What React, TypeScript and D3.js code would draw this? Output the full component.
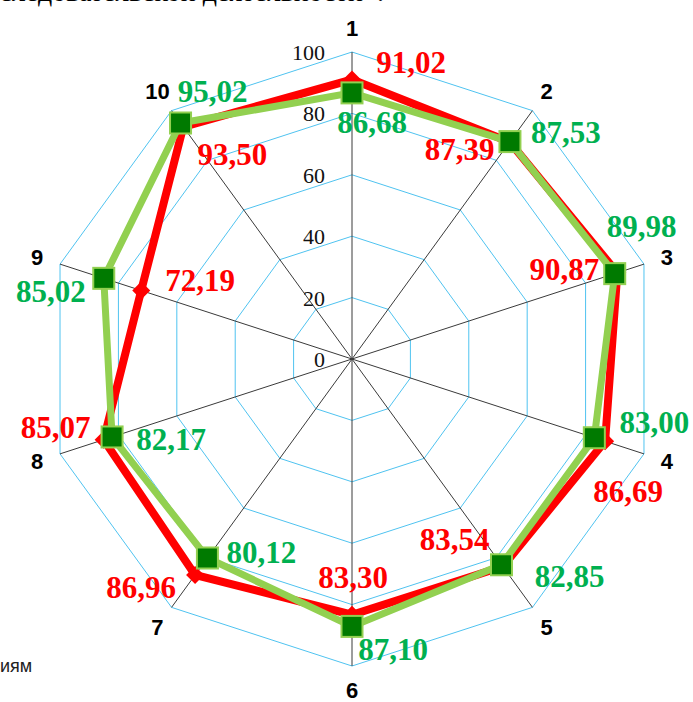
import React from "react";
import * as d3 from "d3";

const categories = ["1", "2", "3", "4", "5", "6", "7", "8", "9", "10"];
const redValues = [91.02, 87.39, 90.87, 86.69, 83.54, 83.3, 86.96, 85.07, 72.19, 93.5];
const greenValues = [86.68, 87.53, 89.98, 83.0, 82.85, 87.1, 80.12, 82.17, 85.02, 95.02];
const ringTicks = [0, 20, 40, 60, 80, 100];

// label placement (dx to text centre, dy to baseline) relative to each point
const redLabelOffsets: [number, number][] = [
  [59, -7], [-50, 18], [-53, 7], [23, 61], [-48, -16],
  [1, -27], [-54, 23], [-48, -2], [59, 0], [49, 38],
];
const greenLabelOffsets: [number, number][] = [
  [20, 40], [56, 1], [27, -37], [60, -5], [68, 22],
  [41, 34], [54, 5], [59, 13], [-53, 24], [32, -21],
];

const fmt = (v: number) => v.toFixed(2).replace(".", ",");

export default function App() {
  const W = 693;
  const H = 702;
  const cx = 352;
  const cy = 359;
  const R = 307;
  const n = categories.length;

  const r = d3.scaleLinear().domain([0, 100]).range([0, R]);
  const ang = d3.scaleLinear().domain([0, n]).range([0, 2 * Math.PI]);
  const pt = (i: number, v: number): [number, number] => [
    cx + r(v) * Math.sin(ang(i)),
    cy - r(v) * Math.cos(ang(i)),
  ];

  const radial = d3
    .lineRadial<number>()
    .angle((_, i) => ang(i))
    .radius((d) => r(d))
    .curve(d3.curveLinearClosed);

  const ringPath = (t: number) => radial(categories.map(() => t)) || "";
  const serif = "'Liberation Serif', 'Times New Roman', serif";
  const sans = "'Liberation Sans', Arial, sans-serif";
  const gridBlue = "#4FC3F0";

  return (
    <svg
      width={W}
      height={H}
      style={{ position: "absolute", left: 0, top: 0, background: "#fff" }}
    >
      <text x={384} y={1} textAnchor="end" fontFamily={serif} fontSize={28} fill="#000">
        исследовательской деятельности».
      </text>
      <text x={0} y={672} textAnchor="start" fontFamily={sans} fontSize={18} fill="#222">
        иям
      </text>

      <g transform={`translate(${cx},${cy})`}>
        {ringTicks.slice(1).map((t) => (
          <path key={t} d={ringPath(t)} fill="none" stroke={gridBlue} strokeWidth={1} />
        ))}
      </g>
      {categories.map((c, i) => {
        const [x, y] = pt(i, 100);
        return <line key={c} x1={cx} y1={cy} x2={x} y2={y} stroke="#3a3a3a" strokeWidth={1} />;
      })}
      {ringTicks.map((t) => (
        <text
          key={t}
          x={cx - 27}
          y={cy - r(t)}
          dy="0.36em"
          textAnchor="end"
          fontFamily={serif}
          fontSize={22}
          fill="#111"
        >
          {t}
        </text>
      ))}
      {categories.map((c, i) => {
        const a = ang(i);
        const rr = R + 24;
        return (
          <text
            key={c}
            x={cx + rr * Math.sin(a)}
            y={cy - rr * Math.cos(a)}
            dy="0.36em"
            textAnchor="middle"
            fontFamily={sans}
            fontWeight="bold"
            fontSize={22}
            fill="#000"
          >
            {c}
          </text>
        );
      })}

      {/* red series */}
      <g transform={`translate(${cx},${cy})`}>
        <path d={radial(redValues) || ""} fill="none" stroke="#FF0000" strokeWidth={8} strokeLinejoin="miter" />
      </g>
      {redValues.map((v, i) => {
        const [x, y] = pt(i, v);
        const s = 9;
        return (
          <path
            key={i}
            d={`M${x},${y - s}L${x + s},${y}L${x},${y + s}L${x - s},${y}Z`}
            fill="#FF0000"
          />
        );
      })}

      {/* green series */}
      <g transform={`translate(${cx},${cy})`}>
        <path d={radial(greenValues) || ""} fill="none" stroke="#92D050" strokeWidth={7} strokeLinejoin="miter" />
      </g>
      {greenValues.map((v, i) => {
        const [x, y] = pt(i, v);
        const s = 21;
        return (
          <rect
            key={i}
            x={x - s / 2}
            y={y - s / 2}
            width={s}
            height={s}
            fill="#007A00"
            stroke="#92D050"
            strokeWidth={2}
          />
        );
      })}

      {redValues.map((v, i) => {
        const [x, y] = pt(i, v);
        const [dx, dy] = redLabelOffsets[i];
        return (
          <text
            key={i}
            x={x + dx}
            y={y + dy}
            textAnchor="middle"
            fontFamily={serif}
            fontWeight="bold"
            fontSize={31}
            fill="#FF0000"
          >
            {fmt(v)}
          </text>
        );
      })}
      {greenValues.map((v, i) => {
        const [x, y] = pt(i, v);
        const [dx, dy] = greenLabelOffsets[i];
        return (
          <text
            key={i}
            x={x + dx}
            y={y + dy}
            textAnchor="middle"
            fontFamily={serif}
            fontWeight="bold"
            fontSize={31}
            fill="#00B050"
          >
            {fmt(v)}
          </text>
        );
      })}
    </svg>
  );
}
